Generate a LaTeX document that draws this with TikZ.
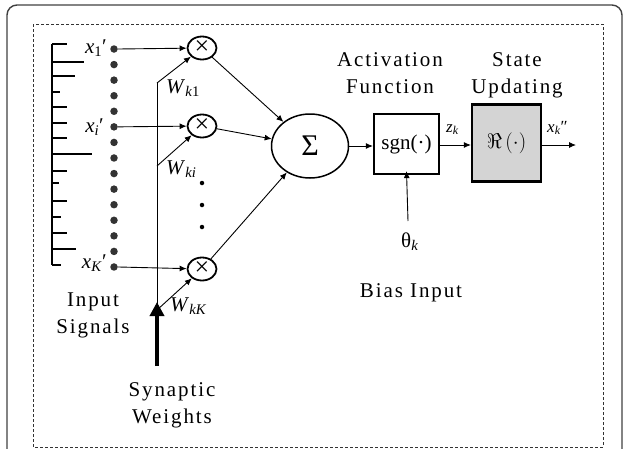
\documentclass[tikz,border=0pt]{standalone}
\usepackage{fix-cm}
\usepackage{fontspec}
\setmainfont{Liberation Serif}
\newfontfamily\spaced[LetterSpace=9]{Liberation Serif}
\usetikzlibrary{arrows.meta,shapes.geometric}
\newcommand{\vv}[1]{\textit{#1}}
\begin{document}
\begin{tikzpicture}[x=1pt,y=-1pt,
  lbl/.style={font=\spaced\fontsize{21}{27}\selectfont, align=center, inner sep=0pt},
  var/.style={font=\fontsize{21}{23}\selectfont, inner sep=0pt},
  svar/.style={font=\fontsize{17}{19}\selectfont, inner sep=0pt},
  mult/.style={draw, ellipse, line width=1.8pt, minimum width=29pt, minimum height=23pt, inner sep=0pt, font=\fontsize{26}{26}\selectfont},
  sumnode/.style={draw, ellipse, line width=1.5pt, minimum width=77pt, minimum height=64pt, inner sep=0pt, font=\fontsize{30}{30}\selectfont},
  blockbox/.style={draw, line width=2.2pt, inner sep=0pt},
  sdot/.style={circle, fill=black!80, inner sep=0pt, minimum size=7.5pt},
  vdot/.style={circle, fill=black, inner sep=0pt, minimum size=4.5pt},
  arr/.style={-{Latex[length=7pt,width=6pt]}, line width=0.9pt},
  thickarr/.style={-{Triangle[length=14pt,width=14pt]}, line width=3.5pt},
]
\useasboundingbox (0,0) rectangle (624,448);
% frames
\draw[line width=1.4pt, black!75, rounded corners=10pt] (7,5) rectangle (622,470);
\draw[line width=0.9pt, dash pattern=on 3pt off 2pt, black!80] (33,24) rectangle (603,447);

% input comb
\draw[line width=1.2pt] (52,44) -- (52,265);
\foreach \y/\xe in {44/67,62/84,76/75,92/60,107/67,123/67,138/67,154/92,171/67,183/59,201/67,217/61,233/67,249/76,265/61}
  \draw[line width=1.2pt] (52,\y) -- (\xe,\y);

% input dots
\foreach \i in {0,...,14}
  \node[sdot] (d\i) at (114,{49+15.57*\i}) {};

\node[var, anchor=base east] (lx1) at (107,53) {\vv{x}\textsubscript{1}′};
\node[var, anchor=base east] (lxi) at (104,132) {\vv{x}\textsubscript{\vv{i}}′};
\node[var, anchor=base east] (lxK) at (107,268) {\vv{x}\textsubscript{\vv{K}}′};

% multipliers
\node[mult] (m1) at (202,48) {×};
\node[mult] (m2) at (202,126) {×};
\node[mult] (m3) at (202,269) {×};

\draw[arr] (d0.east) -- (m1);
\draw[arr] (d5.east) -- (m2);
\draw[arr] (d14.east) -- (m3);

% synaptic weights
\coordinate (w1) at (157,83);
\coordinate (w2) at (157,166);
\coordinate (w3) at (157,310);
\coordinate (wb) at (157,366);
\draw[line width=1pt] (w1) -- (w3);
\draw[arr] (w1) -- (m1);
\draw[arr] (w2) -- (m2);
\draw[arr] (w3) -- (m3);
\draw[thickarr] (wb) -- ([yshift=8pt]w3);

\node[var, anchor=base west] (lw1) at (166,93) {\vv{W}\textsubscript{\vv{k}1}};
\node[var, anchor=base west] (lwi) at (166,174) {\vv{W}\textsubscript{\vv{ki}}};
\node[var, anchor=base west] (lwK) at (170,311) {\vv{W}\textsubscript{\vv{kK}}};

\node[vdot] (v1) at (202,183) {};
\node[vdot] (v2) at (202,205) {};
\node[vdot] (v3) at (202,227) {};

% summation
\node[sumnode] (s) at (310,146) {Σ};
\draw[arr] (m1) -- (s);
\draw[arr] (m2) -- (s);
\draw[arr] (m3) -- (s);

% activation
\node[blockbox, minimum width=65pt, minimum height=60pt, font=\fontsize{21}{22}\selectfont] (b1) at (406.5,144) {sgn(·)};
\node[blockbox, fill=black!17, minimum width=69pt, minimum height=77pt, font=\fontsize{21}{22}\selectfont] (b2) at (506.5,143) {$\Re\,(\cdot)$};
\coordinate (out) at (576,145);

\draw[arr] (s.east) -- (s.east -| b1.west);
\draw[arr] (b1.east |- 0,145) -- (b2.west |- 0,145);
\draw[arr] (b2.east |- out) -- (out);

\node[svar, anchor=base west] (lz) at (446,132) {\vv{z}\textsubscript{\vv{k}}};
\node[svar, anchor=base west] (lxo) at (547,132) {\vv{x}\textsubscript{\vv{k}}″};

% bias
\coordinate (bias) at (408,221);
\draw[arr] (bias) -- ([yshift=4pt]b1.south);
\node[var, anchor=base west] (lth) at (401,247) {θ\textsubscript{\vv{k}}};

% labels
\node[lbl] (tact) at (390,73) {Activation\\Function};
\node[lbl] (tsu) at (517,75) {State\\Updating};
\node[lbl] (tin) at (93,315) {Input\\Signals};
\node[lbl] (tsw) at (172,405) {Synaptic\\Weights};
\node[lbl, anchor=base] (tbias) at (411,297) {Bias Input};
\end{tikzpicture}
\end{document}
